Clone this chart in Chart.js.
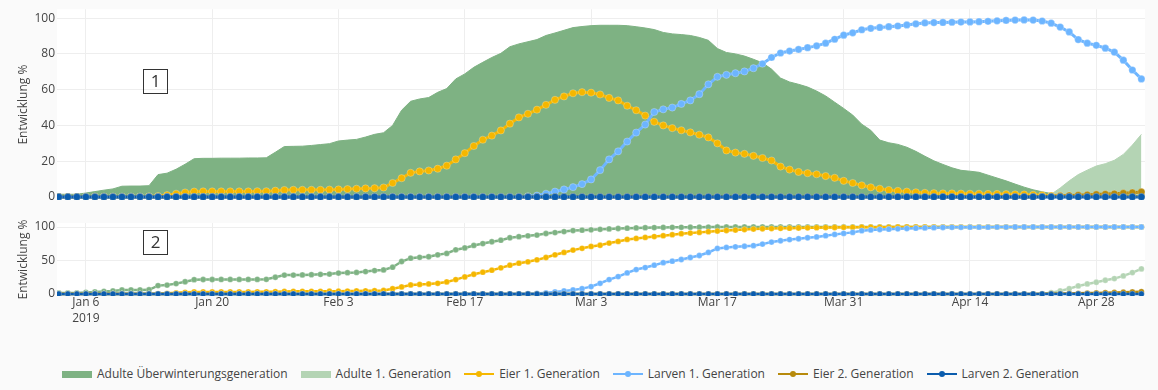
<!DOCTYPE html>
<html>
<head>
<meta charset="utf-8">
<script src="https://cdn.jsdelivr.net/npm/chart.js@4.4.1/dist/chart.umd.min.js"></script>
<style>
  html, body { margin: 0; padding: 0; background: #fafafa; }
  body { width: 1158px; height: 390px; position: relative; overflow: hidden; font-family: "Open Sans", sans-serif; }
  #topChart { position: absolute; left: 0; top: 0; }
  #bottomChart { position: absolute; left: 0; top: 210px; }
  #legend { position: absolute; left: 62px; top: 366px; display: flex; align-items: center;
            font-size: 12px; color: #444; line-height: 16px; white-space: nowrap; }
  #legend .item { display: flex; align-items: center; margin-right: 13px; }
  #legend .sym { position: relative; width: 30px; height: 8px; margin-right: 5px; display: inline-block; }
  #legend .sym i { position: absolute; display: block; }
  #legend .bar { left: 0; top: 0.5px; width: 30px; height: 7px; }
  #legend .ln { left: 0; top: 3px; width: 30px; height: 2px; }
  #legend .dot { left: 12px; top: 1px; width: 6px; height: 6px; border-radius: 50%; }
</style>
</head>
<body>
<canvas id="topChart" width="1158" height="210"></canvas>
<canvas id="bottomChart" width="1158" height="130"></canvas>
<div id="legend"></div>
<script>
// daily values, first sample = Jan 3 2019 (day 2, Jan 1 = day 0), last = May 3
const firstDay = 2;

const tickDays = [5, 19, 33, 47, 61, 75, 89, 103, 117];
const tickLabels = [['Jan 6', '2019'], 'Jan 20', 'Feb 3', 'Feb 17', 'Mar 3', 'Mar 17', 'Mar 31', 'Apr 14', 'Apr 28'];

const seriesNames = ['Adulte Überwinterungsgeneration', 'Adulte 1. Generation', 'Eier 1. Generation',
                     'Larven 1. Generation', 'Eier 2. Generation', 'Larven 2. Generation'];
const seriesColors = ['#7eb283', '#b4d4b4', '#f5b700', '#6db5ff', '#b78a0c', '#0b5cad'];
const seriesKinds = ['area', 'area', 'line', 'line', 'line', 'line'];

// ---- panel 1 (current share) ----
const adultUeTop = [
  1.5, 1.5, 1.5, 2.2, 3.0, 3.8, 4.5, 6.0, 6.1, 6.1,
  6.3, 12.5, 13.3, 15.5, 18.3, 21.4, 21.6, 21.6, 21.7, 21.7,
  21.7, 21.8, 21.8, 21.9, 25.0, 28.2, 28.3, 28.4, 28.8, 29.3,
  29.8, 31.3, 31.8, 32.2, 33.5, 35.0, 35.9, 40.0, 48.5, 53.5,
  54.8, 55.6, 58.5, 60.6, 66.0, 68.8, 72.5, 75.3, 78.0, 80.3,
  84.0, 85.6, 86.8, 88.0, 90.3, 91.7, 93.2, 94.7, 95.3, 95.8,
  96.0, 96.0, 96.0, 95.8, 95.2, 94.5, 93.6, 92.0, 91.2, 90.8,
  90.3, 89.2, 87.6, 83.0, 80.8, 80.0, 78.8, 77.0, 75.0, 71.5,
  66.5, 64.3, 63.0, 61.5, 59.2, 56.5, 53.0, 49.5, 45.8, 40.7,
  37.3, 31.8, 30.3, 29.4, 27.8, 25.5, 22.8, 20.2, 18.2, 16.3,
  14.9, 14.4, 13.8, 12.2, 10.6, 9.0, 7.2, 5.5, 4.0, 2.9,
  1.9, 1.2, 1.0, 0.9, 0.8, 0.8, 0.7, 0.7, 0.6, 0.6,
  0.6
];
const adult1Top = [
  0, 0, 0, 0, 0, 0, 0, 0, 0, 0,
  0, 0, 0, 0, 0, 0, 0, 0, 0, 0,
  0, 0, 0, 0, 0, 0, 0, 0, 0, 0,
  0, 0, 0, 0, 0, 0, 0, 0, 0, 0,
  0, 0, 0, 0, 0, 0, 0, 0, 0, 0,
  0, 0, 0, 0, 0, 0, 0, 0, 0, 0,
  0, 0, 0, 0, 0, 0, 0, 0, 0, 0,
  0, 0, 0, 0, 0, 0, 0, 0, 0, 0,
  0, 0, 0, 0, 0, 0, 0, 0, 0, 0,
  0, 0, 0, 0, 0, 0, 0, 0, 0, 0,
  0, 0, 0, 0, 0, 0, 0, 0, 0, 0.3,
  1.5, 5.0, 9.0, 12.5, 15.0, 17.3, 18.6, 20.5, 23.8, 29.0,
  35.0
];
const eier1Top = [
  0.2, 0.2, 0.2, 0.2, 0.2, 0.2, 0.2, 0.2, 0.2, 0.2,
  0.3, 0.5, 1.0, 1.8, 2.5, 3.0, 3.1, 3.1, 3.1, 3.1,
  3.1, 3.1, 3.2, 3.2, 3.5, 3.9, 4.0, 4.0, 4.0, 4.0,
  4.1, 4.2, 4.4, 4.6, 4.8, 4.9, 5.3, 7.8, 10.5, 13.5,
  14.3, 14.8, 15.8, 17.5, 21.0, 24.5, 28.5, 32.0, 34.3, 37.2,
  41.0, 44.5, 46.5, 48.8, 51.5, 54.3, 56.2, 58.0, 58.6, 58.3,
  57.3, 55.4, 54.0, 51.0, 48.5, 45.5, 42.0, 40.0, 38.5, 37.3,
  36.1, 34.8, 33.3, 30.0, 26.0, 24.8, 24.1, 23.0, 21.8, 20.4,
  17.0, 15.3, 14.0, 13.3, 12.7, 11.7, 10.7, 9.0, 7.8, 6.5,
  5.4, 4.6, 3.9, 3.4, 3.0, 2.6, 2.3, 2.1, 2.0, 2.0,
  1.9, 1.8, 1.8, 1.7, 1.7, 1.6, 1.5, 1.4, 1.2, 1.0,
  0.7, 0.5, 0.4, 0.3, 0.3, 0.3, 0.3, 0.3, 0.3, 0.3,
  0.3
];
const larven1Top = [
  0, 0, 0, 0, 0, 0, 0, 0, 0, 0,
  0, 0, 0, 0, 0, 0, 0, 0, 0, 0,
  0, 0, 0, 0, 0, 0, 0, 0, 0, 0,
  0, 0, 0, 0, 0, 0, 0, 0, 0, 0,
  0, 0, 0, 0, 0, 0, 0, 0, 0, 0,
  0.0, 0.1, 0.4, 0.8, 1.8, 3.0, 4.2, 5.5, 7.2, 9.8,
  15.0, 21.0, 25.5, 31.0, 36.0, 40.5, 47.5, 49.0, 50.0, 52.0,
  54.0, 57.5, 63.0, 67.2, 68.3, 69.2, 70.2, 72.0, 74.5, 78.0,
  80.5, 81.6, 82.5, 83.5, 84.5, 86.0, 88.2, 90.5, 91.8, 93.5,
  94.3, 94.8, 95.2, 95.6, 96.2, 96.8, 97.3, 97.5, 97.6, 97.7,
  97.8, 97.9, 98.0, 98.2, 98.5, 98.7, 98.9, 99.0, 98.9, 98.4,
  97.2, 95.0, 92.3, 88.0, 86.0, 84.8, 83.2, 81.0, 76.5, 71.0,
  66.0
];
const eier2Top = [
  0, 0, 0, 0, 0, 0, 0, 0, 0, 0,
  0, 0, 0, 0, 0, 0, 0, 0, 0, 0,
  0, 0, 0, 0, 0, 0, 0, 0, 0, 0,
  0, 0, 0, 0, 0, 0, 0, 0, 0, 0,
  0, 0, 0, 0, 0, 0, 0, 0, 0, 0,
  0, 0, 0, 0, 0, 0, 0, 0, 0, 0,
  0, 0, 0, 0, 0, 0, 0, 0, 0, 0,
  0, 0, 0, 0, 0, 0, 0, 0, 0, 0,
  0, 0, 0, 0, 0, 0, 0, 0, 0, 0,
  0, 0, 0, 0, 0, 0, 0, 0, 0, 0,
  0, 0, 0, 0, 0, 0, 0, 0, 0, 0.2,
  0.4, 0.6, 0.8, 1.0, 1.2, 1.4, 1.6, 1.8, 2.1, 2.4,
  2.8
];
const larven2Top = [
  0, 0, 0, 0, 0, 0, 0, 0, 0, 0,
  0, 0, 0, 0, 0, 0, 0, 0, 0, 0,
  0, 0, 0, 0, 0, 0, 0, 0, 0, 0,
  0, 0, 0, 0, 0, 0, 0, 0, 0, 0,
  0, 0, 0, 0, 0, 0, 0, 0, 0, 0,
  0, 0, 0, 0, 0, 0, 0, 0, 0, 0,
  0, 0, 0, 0, 0, 0, 0, 0, 0, 0,
  0, 0, 0, 0, 0, 0, 0, 0, 0, 0,
  0, 0, 0, 0, 0, 0, 0, 0, 0, 0,
  0, 0, 0, 0, 0, 0, 0, 0, 0, 0,
  0, 0, 0, 0, 0, 0, 0, 0, 0, 0,
  0, 0, 0, 0, 0, 0, 0, 0, 0, 0,
  0
];

// ---- panel 2 (cumulative development) ----
const adultUeBot = [
  1.5, 1.5, 1.5, 2.2, 3.0, 3.8, 4.5, 6.0, 6.1, 6.1,
  6.3, 12.5, 13.3, 15.5, 18.3, 21.4, 21.6, 21.6, 21.7, 21.7,
  21.7, 21.8, 21.8, 21.9, 25.0, 28.2, 28.3, 28.4, 28.8, 29.3,
  29.8, 31.3, 31.8, 32.2, 33.5, 35.0, 35.9, 40.0, 48.5, 53.5,
  54.8, 55.6, 58.5, 60.6, 66.0, 68.8, 72.5, 75.3, 78.0, 80.3,
  84.0, 85.6, 86.8, 88.0, 90.3, 91.7, 93.2, 94.7, 95.3, 95.8,
  96.5, 97.2, 97.8, 98.3, 98.7, 99.0, 99.2, 99.4, 99.5, 99.6,
  99.7, 99.8, 99.9, 100, 100, 100, 100, 100, 100, 100,
  100, 100, 100, 100, 100, 100, 100, 100, 100, 100,
  100, 100, 100, 100, 100, 100, 100, 100, 100, 100,
  100, 100, 100, 100, 100, 100, 100, 100, 100, 100,
  100, 100, 100, 100, 100, 100, 100, 100, 100, 100,
  100
];
const adult1Bot = [
  0, 0, 0, 0, 0, 0, 0, 0, 0, 0,
  0, 0, 0, 0, 0, 0, 0, 0, 0, 0,
  0, 0, 0, 0, 0, 0, 0, 0, 0, 0,
  0, 0, 0, 0, 0, 0, 0, 0, 0, 0,
  0, 0, 0, 0, 0, 0, 0, 0, 0, 0,
  0, 0, 0, 0, 0, 0, 0, 0, 0, 0,
  0, 0, 0, 0, 0, 0, 0, 0, 0, 0,
  0, 0, 0, 0, 0, 0, 0, 0, 0, 0,
  0, 0, 0, 0, 0, 0, 0, 0, 0, 0,
  0, 0, 0, 0, 0, 0, 0, 0, 0, 0,
  0, 0, 0, 0, 0, 0, 0, 0, 0, 0.5,
  2.0, 4.5, 8.0, 12.0, 15.0, 17.5, 20.5, 23.0, 27.0, 32.0,
  37.5
];
const eier1Bot = [
  0.2, 0.2, 0.2, 0.2, 0.2, 0.2, 0.2, 0.2, 0.2, 0.2,
  0.3, 0.5, 1.0, 1.8, 2.5, 3.0, 3.1, 3.1, 3.1, 3.1,
  3.1, 3.1, 3.2, 3.2, 3.5, 3.9, 4.0, 4.0, 4.0, 4.0,
  4.1, 4.2, 4.4, 4.6, 4.8, 4.9, 5.3, 7.8, 10.5, 13.5,
  14.3, 15.0, 16.0, 18.0, 21.5, 25.5, 29.5, 32.5, 35.5, 39.0,
  43.0, 46.0, 48.0, 51.0, 54.5, 58.5, 62.0, 65.5, 68.2, 71.0,
  72.8, 76.0, 78.5, 81.5, 83.0, 84.5, 85.8, 87.0, 88.5, 90.0,
  91.0, 92.0, 93.0, 94.0, 94.8, 95.5, 96.3, 97.0, 97.4, 97.7,
  98.0, 98.2, 98.5, 98.8, 99.0, 99.2, 99.3, 99.5, 99.6, 99.7,
  99.8, 99.8, 99.9, 100, 100, 100, 100, 100, 100, 100,
  100, 100, 100, 100, 100, 100, 100, 100, 100, 100,
  100, 100, 100, 100, 100, 100, 100, 100, 100, 100,
  100
];
const larven1Bot = [
  0, 0, 0, 0, 0, 0, 0, 0, 0, 0,
  0, 0, 0, 0, 0, 0, 0, 0, 0, 0,
  0, 0, 0, 0, 0, 0, 0, 0, 0, 0,
  0, 0, 0, 0, 0, 0, 0, 0, 0, 0,
  0, 0, 0, 0, 0, 0, 0, 0, 0, 0,
  0.0, 0.1, 0.4, 0.8, 1.8, 3.0, 4.5, 6.0, 8.0, 11.0,
  16.0, 21.5, 26.0, 31.5, 36.5, 39.5, 43.0, 46.8, 49.0, 51.5,
  54.5, 57.5, 62.0, 68.0, 69.5, 70.5, 71.3, 72.2, 74.5, 77.5,
  79.5, 81.2, 82.5, 84.0, 85.2, 87.0, 89.0, 90.5, 92.0, 94.5,
  95.6, 96.3, 96.8, 97.3, 97.8, 98.3, 98.7, 99.0, 99.3, 99.5,
  99.6, 99.7, 99.8, 99.8, 99.9, 99.9, 100, 100, 100, 100,
  100, 100, 100, 100, 100, 100, 100, 100, 100, 100,
  100
];
const eier2Bot = [
  0, 0, 0, 0, 0, 0, 0, 0, 0, 0,
  0, 0, 0, 0, 0, 0, 0, 0, 0, 0,
  0, 0, 0, 0, 0, 0, 0, 0, 0, 0,
  0, 0, 0, 0, 0, 0, 0, 0, 0, 0,
  0, 0, 0, 0, 0, 0, 0, 0, 0, 0,
  0, 0, 0, 0, 0, 0, 0, 0, 0, 0,
  0, 0, 0, 0, 0, 0, 0, 0, 0, 0,
  0, 0, 0, 0, 0, 0, 0, 0, 0, 0,
  0, 0, 0, 0, 0, 0, 0, 0, 0, 0,
  0, 0, 0, 0, 0, 0, 0, 0, 0, 0,
  0, 0, 0, 0, 0, 0, 0, 0, 0, 0.2,
  0.4, 0.6, 0.8, 1.0, 1.3, 1.6, 1.9, 2.2, 2.6, 3.0,
  3.5
];
const larven2Bot = larven2Top.slice();

Chart.defaults.font.family = '"Open Sans", sans-serif';
Chart.defaults.font.size = 12;
Chart.defaults.color = '#444';

// white plot area on the grey page
const plotBg = {
  id: 'plotBg',
  beforeDraw(chart) {
    const { ctx, chartArea: a } = chart;
    ctx.save();
    ctx.fillStyle = '#fff';
    ctx.fillRect(a.left, a.top, a.right - a.left, a.bottom - a.top);
    ctx.restore();
  }
};

// boxed panel number "1" / "2"
const panelTag = {
  id: 'panelTag',
  afterDraw(chart, args, opts) {
    const { ctx, chartArea: a } = chart;
    const x = a.left + opts.dx, y = a.top + opts.dy;
    ctx.save();
    ctx.strokeStyle = '#333';
    ctx.lineWidth = 1;
    ctx.strokeRect(Math.round(x) + 0.5, Math.round(y) + 0.5, 24, 24);
    ctx.fillStyle = '#333';
    ctx.font = '17px "Open Sans", sans-serif';
    ctx.textAlign = 'center';
    ctx.textBaseline = 'middle';
    ctx.fillText(opts.text, x + 12.5, y + 13);
    ctx.restore();
  }
};

function toPoints(values) {
  return values.map((v, i) => ({ x: firstDay + i, y: v }));
}

function makeSets(valueLists, radius, lineW, withAreas) {
  return valueLists.map((vals, i) => {
    const c = seriesColors[i];
    const base = { label: seriesNames[i], data: toPoints(vals), order: valueLists.length - 1 - i, clip: 0, tension: 0 };
    if (withAreas && seriesKinds[i] === 'area') {
      return Object.assign(base, { borderColor: c, backgroundColor: c, borderWidth: 1, pointRadius: 0, fill: 'origin' });
    }
    return Object.assign(base, {
      borderColor: c, backgroundColor: c, borderWidth: lineW, fill: false,
      pointRadius: radius, pointBackgroundColor: c,
      pointBorderColor: 'rgba(255,255,255,0.5)', pointBorderWidth: 0.5
    });
  });
}

function xScale(showLabels) {
  return {
    type: 'linear',
    min: 1.8,
    max: 122.4,
    grid: { color: '#eee', drawTicks: false },
    border: { display: false },
    afterBuildTicks: s => { s.ticks = tickDays.map(v => ({ value: v })); },
    afterFit: s => { s.height = showLabels ? 44 : 10; },
    ticks: {
      display: showLabels,
      autoSkip: false,
      maxRotation: 0,
      padding: -2,
      font: { size: 12, lineHeight: 1.35 },
      callback: v => tickLabels[tickDays.indexOf(v)]
    }
  };
}

function yScale(min, max, step) {
  return {
    min: min,
    max: max,
    grid: { color: '#eee', drawTicks: false },
    border: { display: false },
    afterFit: s => { s.width = 57; },
    ticks: { stepSize: step, includeBounds: false, padding: 2 },
    title: { display: true, text: 'Entwicklung %', font: { size: 12 }, padding: { top: 16, bottom: 0 } }
  };
}

function makeChart(id, sets, yMin, yMax, step, showX, padTop, tag) {
  return new Chart(document.getElementById(id), {
    type: 'line',
    data: { datasets: sets },
    options: {
      responsive: false,
      animation: false,
      events: [],
      layout: { padding: { top: padTop, right: 13, left: 0, bottom: 0 } },
      scales: { x: xScale(showX), y: yScale(yMin, yMax, step) },
      plugins: { legend: { display: false }, tooltip: { enabled: false }, panelTag: tag }
    },
    plugins: [plotBg, panelTag]
  });
}

makeChart('topChart',
  makeSets([adultUeTop, adult1Top, eier1Top, larven1Top, eier2Top, larven2Top], 3.6, 3, true),
  -1.7, 105, 20, false, 7, { text: '1', dx: 86, dy: 60 });

makeChart('bottomChart',
  makeSets([adultUeBot, adult1Bot, eier1Bot, larven1Bot, eier2Bot, larven2Bot], 2.9, 2.5, false),
  -3, 106, 50, true, 13, { text: '2', dx: 86, dy: 7 });

// legend below both panels
const legendEl = document.getElementById('legend');
seriesNames.forEach((name, i) => {
  const c = seriesColors[i];
  const item = document.createElement('div');
  item.className = 'item';
  const sym = document.createElement('span');
  sym.className = 'sym';
  if (seriesKinds[i] === 'area') {
    sym.innerHTML = '<i class="bar" style="background:' + c + '"></i>';
  } else {
    sym.innerHTML = '<i class="ln" style="background:' + c + '"></i><i class="dot" style="background:' + c + '"></i>';
  }
  const txt = document.createElement('span');
  txt.textContent = name;
  item.appendChild(sym);
  item.appendChild(txt);
  legendEl.appendChild(item);
});
</script>
</body>
</html>
